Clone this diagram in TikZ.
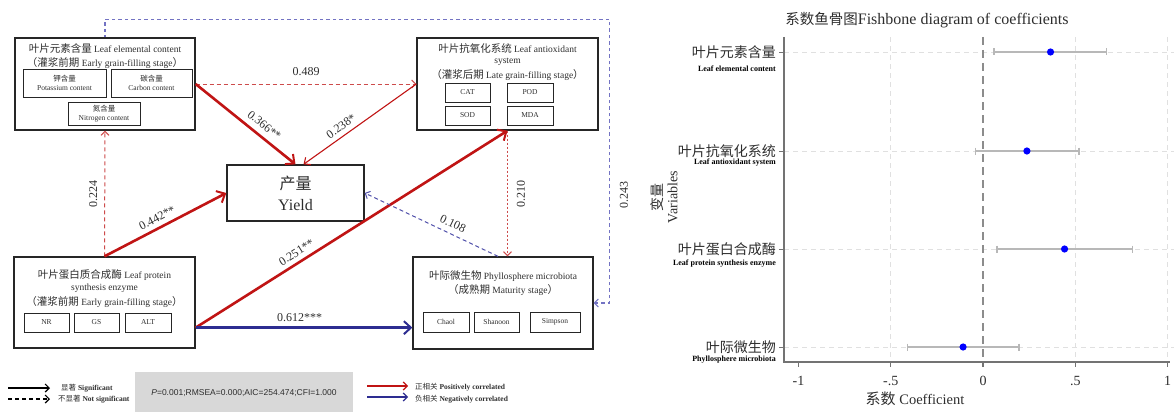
\documentclass[tikz,border=0pt]{standalone}
\usepackage{fontspec}
\setmainfont{Liberation Serif}
\newfontfamily\cjk{Noto Sans CJK SC}
\newfontfamily\arialf{Liberation Sans}
\usetikzlibrary{arrows.meta,calc}
\newcommand{\zh}[1]{{\cjk #1}}
\newcommand{\zhL}[1]{{\cjk\fontsize{10.5}{12}\selectfont #1}}
\definecolor{cred}{RGB}{192,20,20}
\definecolor{cdred}{RGB}{205,75,75}
\definecolor{cblue}{RGB}{45,45,145}
\definecolor{cdblue}{RGB}{80,80,170}
\definecolor{clav}{RGB}{115,115,195}
\definecolor{txt}{RGB}{45,45,45}
\definecolor{cpbox}{RGB}{216,216,216}
\begin{document}
\begin{tikzpicture}[x=1pt,y=-1pt,
  bigbox/.style={draw=black!85, line width=1.3pt, inner sep=0pt},
  subbox/.style={draw=black!85, line width=1pt, inner sep=0pt, align=center, text=txt, font=\fontsize{7.5}{9}\selectfont},
  ttl/.style={inner sep=0pt, text=txt, font=\fontsize{9.5}{11}\selectfont},
  lbl/.style={inner sep=1.5pt, text=txt, font=\fontsize{12}{13}\selectfont},
  thickred/.style={draw=cred, line width=2.6pt, -{Straight Barb[length=7pt,width=13pt,line width=2pt]}},
  thinred/.style={draw=cred, line width=1.1pt, -{Straight Barb[length=5pt,width=9pt,line width=1.1pt]}},
  dashred/.style={draw=cdred, line width=1pt, dash pattern=on 4pt off 3pt, -{Straight Barb[length=4pt,width=8pt,line width=1pt]}},
  dotred/.style={draw=cdred, line width=1pt, dash pattern=on 2pt off 2pt, -{Straight Barb[length=4pt,width=8pt,line width=1pt]}},
  thickblue/.style={draw=cblue, line width=2.6pt, -{Straight Barb[length=7pt,width=13pt,line width=2pt]}},
  dashblue/.style={draw=cdblue, line width=1pt, dash pattern=on 4pt off 3pt, -{Straight Barb[length=4pt,width=8pt,line width=1pt]}},
  legtxt/.style={anchor=west, inner sep=0pt, text=txt, font=\fontsize{7.5}{9}\selectfont},
  gridl/.style={draw=black!12, line width=0.8pt, dash pattern=on 5pt off 4pt},
  zerol/.style={draw=black!45, line width=1.1pt, dash pattern=on 8pt off 5pt},
  axisl/.style={draw=black!55, line width=1.1pt},
  ebar/.style={draw=black!28, line width=1.4pt},
  ctext/.style={text=txt, inner sep=0pt}
]
\useasboundingbox (0,0) rectangle (1174,412);

% ---------------- main boxes ----------------
\node[bigbox, minimum width=180pt, minimum height=92pt] (b1) at (105,84) {};
\node[ttl] (t1a) at (105,48) {\zhL{叶片元素含量} Leaf elemental content};
\node[ttl] (t1b) at (105,63) {\zhL{（灌浆前期} Early grain-filling stage\zhL{）}};
\node[subbox, minimum width=83pt, minimum height=28pt] (s11) at (64.5,83) {\zh{钾含量}\\Potassium content};
\node[subbox, minimum width=81pt, minimum height=28pt] (s12) at (151.5,83) {\zh{碳含量}\\Carbon content};
\node[subbox, minimum width=72pt, minimum height=23pt] (s13) at (104,113.5) {\zh{氮含量}\\Nitrogen content};

\node[bigbox, minimum width=181pt, minimum height=92pt] (b2) at (507.5,84) {};
\node[ttl] (t2a) at (507.5,48) {\zhL{叶片抗氧化系统} Leaf antioxidant};
\node[ttl] (t2b) at (507.5,62) {system};
\node[ttl] (t2c) at (507.5,75) {\zhL{（灌浆后期} Late grain-filling stage\zhL{）}};
\node[subbox, minimum width=45pt, minimum height=19pt] (s21) at (467.5,92.5) {CAT};
\node[subbox, minimum width=46pt, minimum height=19pt] (s22) at (530,92.5) {POD};
\node[subbox, minimum width=45pt, minimum height=19pt] (s23) at (467.5,115.5) {SOD};
\node[subbox, minimum width=46pt, minimum height=19pt] (s24) at (530,115.5) {MDA};

\node[bigbox, minimum width=181pt, minimum height=91pt] (b3) at (104.5,302.5) {};
\node[ttl] (t3a) at (104.5,275) {\zhL{叶片蛋白质合成酶} Leaf protein};
\node[ttl] (t3b) at (104.5,288) {synthesis enzyme};
\node[ttl] (t3c) at (104.5,302) {\zhL{（灌浆前期} Early grain-filling stage\zhL{）}};
\node[subbox, minimum width=45pt, minimum height=19pt] (s31) at (46.5,322.5) {NR};
\node[subbox, minimum width=45pt, minimum height=19pt] (s32) at (96.5,322.5) {GS};
\node[subbox, minimum width=46pt, minimum height=19pt] (s33) at (148,322.5) {ALT};

\node[bigbox, minimum width=180pt, minimum height=92pt] (b4) at (503,303) {};
\node[ttl] (t4a) at (503,276) {\zhL{叶际微生物} Phyllosphere microbiota};
\node[ttl] (t4b) at (503,290) {\zhL{（成熟期} Maturity stage\zhL{）}};
\node[subbox, minimum width=46pt, minimum height=20pt] (s41) at (446,322) {Chaol};
\node[subbox, minimum width=45pt, minimum height=20pt] (s42) at (496.5,322) {Shanoon};
\node[subbox, minimum width=50pt, minimum height=20pt] (s43) at (555,322) {Simpson};

\node[bigbox, minimum width=137pt, minimum height=56pt, align=center, text=txt, font=\fontsize{16}{21}\selectfont] (y) at (295.5,193) {\zh{产量}\\Yield};

% ---------------- connectors ----------------
\draw[dashred] (b1.east) -- node[lbl, above=6pt] (l489) {0.489} (b2.west);
\draw[thickred] (b1.east) -- node[lbl, sloped, above=4pt, pos=0.62] (l366) {0.366**} (y.north);
\draw[thinred] (b2.west) -- node[lbl, sloped, above=3pt, pos=0.62] (l238) {0.238*} ([xshift=8pt]y.north);
\draw[dashred] (b3.north) -- node[lbl, rotate=90, anchor=south, pos=0.5, inner sep=7pt] (l224) {0.224} (b1.south);
\draw[thickred] (b3.north) -- node[lbl, sloped, above=3pt, pos=0.47] (l442) {0.442**} (y.west);
\draw[thickred] ([yshift=21pt]b3.south east) -- node[lbl, sloped, above=3pt, pos=0.34] (l251) {0.251**} (b2.south);
\draw[thickblue] ([yshift=21pt]b3.south east) -- node[lbl, above=3pt, pos=0.48] (l612) {0.612***} ([yshift=22pt]b4.south west);
\draw[dashblue] ([xshift=-5pt]b4.north) -- node[lbl, sloped, above=4pt, pos=0.37] (l108) {0.108} (y.east);
\draw[dotred] (b2.south) -- node[lbl, rotate=90, anchor=north, pos=0.5, inner sep=9pt] (l210) {0.210} (b2.south |- b4.north);
\draw[draw=clav, line width=1.5pt, dash pattern=on 3.5pt off 3pt, {Straight Barb[length=4pt,width=8pt,line width=1pt]}-] (b4.east) -- ++(16,0) |- ([yshift=18pt]b1.north) -- (b1.north);
\node[lbl, rotate=90] (l243) at (624,195) {0.243};

% ---------------- legend ----------------
\coordinate (ls1) at (8,388); \coordinate (le1) at (50,388);
\coordinate (ls2) at (8,399); \coordinate (le2) at (50,399);
\draw[line width=1.2pt, -{Straight Barb[length=4pt,width=8pt,line width=1.2pt]}] (ls1) -- (le1);
\draw[line width=1.2pt, dash pattern=on 4pt off 3pt, -{Straight Barb[length=4pt,width=8pt,line width=1.2pt]}] (ls2) -- (le2);
\node[legtxt] (lg1) at (61,388) {\zh{显著} \textbf{Significant}};
\node[legtxt] (lg2) at (58,399) {\zh{不显著} \textbf{Not significant}};
\node[fill=cpbox, minimum width=218pt, minimum height=40pt, inner sep=0pt, anchor=north west] (pbox) at (135,372) {};
\node[text=txt, inner sep=0pt, font=\arialf\fontsize{8.5}{10}\selectfont] (ptxt) at (244,393) {\textit{P}=0.001;RMSEA=0.000;AIC=254.474;CFI=1.000};
\coordinate (ls3) at (367,386); \coordinate (le3) at (408,386);
\coordinate (ls4) at (367,397); \coordinate (le4) at (408,397);
\draw[draw=cred, line width=1.2pt, -{Straight Barb[length=4pt,width=8pt,line width=1.2pt]}] (ls3) -- (le3);
\draw[draw=cblue, line width=1.2pt, -{Straight Barb[length=4pt,width=8pt,line width=1.2pt]}] (ls4) -- (le4);
\node[legtxt] (lg3) at (415,387) {\zh{正相关} \textbf{Positively correlated}};
\node[legtxt] (lg4) at (415,399) {\zh{负相关} \textbf{Negatively correlated}};

% ---------------- coefficient chart ----------------
\node[ctext, font=\fontsize{16}{18}\selectfont] (ctitle) at (927,20) {{\cjk\fontsize{14.5}{17}\selectfont 系数鱼骨图}Fishbone diagram of coefficients};
\foreach \v in {-0.5,0.5,1} \draw[gridl] ({983+184.5*\v},37) -- ({983+184.5*\v},362);
\foreach \yy in {52,151,249,347} \draw[gridl] (784,\yy) -- (1174,\yy);
\draw[zerol] (983,37) -- (983,362);
\draw[axisl] (784,37) -- (784,362) -- (1170,362);
\foreach \v/\t in {-1/-1,-0.5/-.5,0/0,0.5/.5,1/1} {
  \draw[axisl] ({983+184.5*\v},362) -- ++(0,5);
  \node[ctext, font=\fontsize{14}{16}\selectfont] (tk\t) at ({983+184.5*\v},381) {\t};
}
\foreach \yy/\c/\lo/\hi/\zn/\en/\ey [count=\i] in {
  52/0.366/0.06/0.67/叶片元素含量/Leaf elemental content/69,
  151/0.238/-0.04/0.52/叶片抗氧化系统/Leaf antioxidant system/163,
  249/0.442/0.075/0.81/叶片蛋白合成酶/Leaf protein synthesis enzyme/264,
  347/-0.108/-0.41/0.195/叶际微生物/Phyllosphere microbiota/360} {
  \draw[axisl, line width=0.8pt] (779,\yy) -- (784,\yy);
  \draw[ebar] ({983+184.5*\lo},\yy) -- ({983+184.5*\hi},\yy);
  \draw[ebar] ({983+184.5*\lo},\yy-3.5) -- ({983+184.5*\lo},\yy+3.5);
  \draw[ebar] ({983+184.5*\hi},\yy-3.5) -- ({983+184.5*\hi},\yy+3.5);
  \fill[blue] ({983+184.5*\c},\yy) circle (3.6pt);
  \node[ctext, anchor=east, font=\cjk\fontsize{14}{16}\selectfont] (rz\i) at (776,\yy) {\zn};
  \node[ctext, anchor=east, font=\bfseries\fontsize{8}{9}\selectfont, text=black] (re\i) at (776,\ey) {\en};
}
\node[ctext, rotate=90, align=center, font=\fontsize{14}{15}\selectfont] (ylab) at (664,197) {\zh{变量}\\Variables};
\node[ctext, font=\fontsize{14.5}{16}\selectfont] (xlab) at (915,399) {{\cjk\fontsize{15}{16}\selectfont 系数} Coefficient};
\end{tikzpicture}
\end{document}
